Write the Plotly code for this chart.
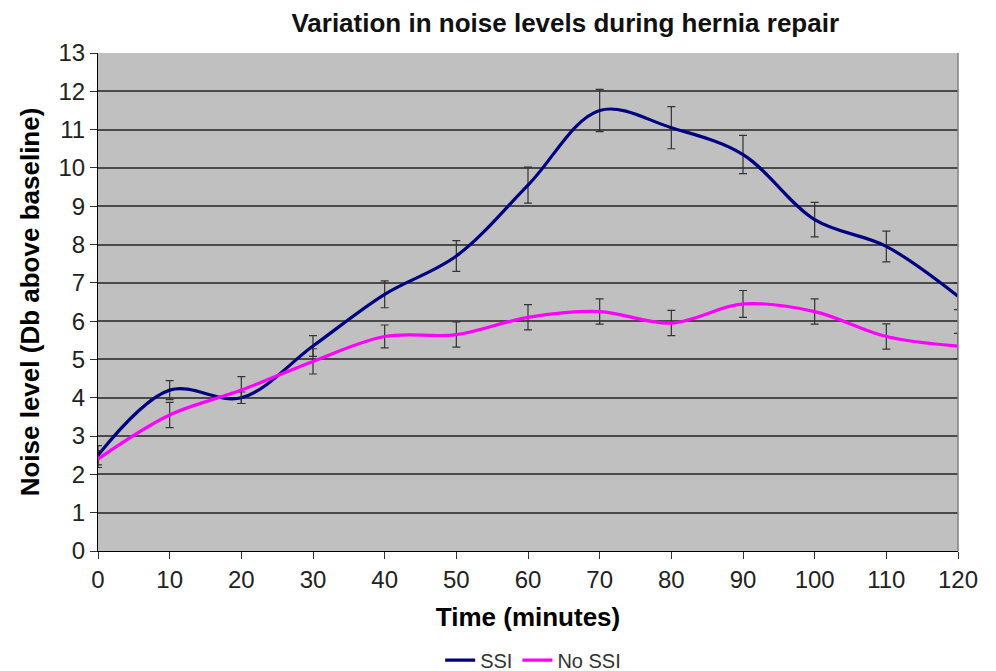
import plotly.graph_objects as go

time_min = [0, 10, 20, 30, 40, 50, 60, 70, 80, 90, 100, 110, 120]
ssi = [2.5, 4.2, 4.0, 5.35, 6.7, 7.7, 9.55, 11.5, 11.05, 10.35, 8.65, 7.95, 6.65]
ssi_err = [0.25, 0.25, 0.15, 0.27, 0.35, 0.4, 0.47, 0.55, 0.55, 0.5, 0.45, 0.4, 0.35]
no_ssi = [2.4, 3.55, 4.2, 4.95, 5.6, 5.65, 6.1, 6.25, 5.95, 6.45, 6.25, 5.6, 5.35]
no_ssi_err = [0.22, 0.33, 0.35, 0.33, 0.3, 0.33, 0.33, 0.33, 0.33, 0.35, 0.33, 0.33, 0.33]

FONT = "Liberation Sans, Arial, sans-serif"

fig = go.Figure()
for name, vals, errs, color in [("SSI", ssi, ssi_err, "#000080"),
                                ("No SSI", no_ssi, no_ssi_err, "#FF00FF")]:
    fig.add_trace(go.Scatter(
        x=time_min, y=vals, name=name, mode="lines",
        line=dict(color=color, width=3.2, shape="spline", smoothing=1),
        error_y=dict(type="data", array=errs, visible=True,
                     color="#333333", thickness=1.2, width=4),
        cliponaxis=False,
    ))

fig.update_layout(
    width=988, height=663,
    margin=dict(l=90, r=38, t=45, b=120, autoexpand=False),
    paper_bgcolor="white",
    plot_bgcolor="#C0C0C0",
    font=dict(family=FONT, color="black"),
    title=dict(text="<b>Variation in noise levels during hernia repair</b>",
               x=0.564, xanchor="center", y=0.978, yanchor="middle",
               font=dict(size=26, family=FONT, color="#111111")),
    xaxis=dict(range=[0, 120], tickmode="array", tickvals=time_min,
               showgrid=False, zeroline=False, showline=True,
               linecolor="black", linewidth=1.2, ticks="outside",
               ticklen=7, tickcolor="#333333", tickfont=dict(size=24, color="#222222"),
               automargin=False,
               title=dict(text="<b>Time (minutes)</b>", font=dict(size=26),
                          standoff=15)),
    yaxis=dict(range=[0, 13], dtick=1, showgrid=True, gridcolor="#4a4a4a",
               gridwidth=1.8, zeroline=False, showline=True,
               linecolor="black", linewidth=1.2, ticks="outside", ticklen=7,
               tickcolor="#333333", tickfont=dict(size=24, color="#222222"),
               automargin=False,
               title=dict(text="<b>Noise level (Db above baseline)</b>",
                          font=dict(size=26), standoff=11)),
    legend=dict(orientation="h", x=0.506, xanchor="center", y=-0.219,
                yanchor="middle", font=dict(size=20, color="#333333")),
    showlegend=True,
    shapes=[dict(type="line", xref="x domain", yref="y domain",
                 x0=1, x1=1, y0=0, y1=1,
                 line=dict(color="#808080", width=1.5))],
)

fig.write_html("out.html")
